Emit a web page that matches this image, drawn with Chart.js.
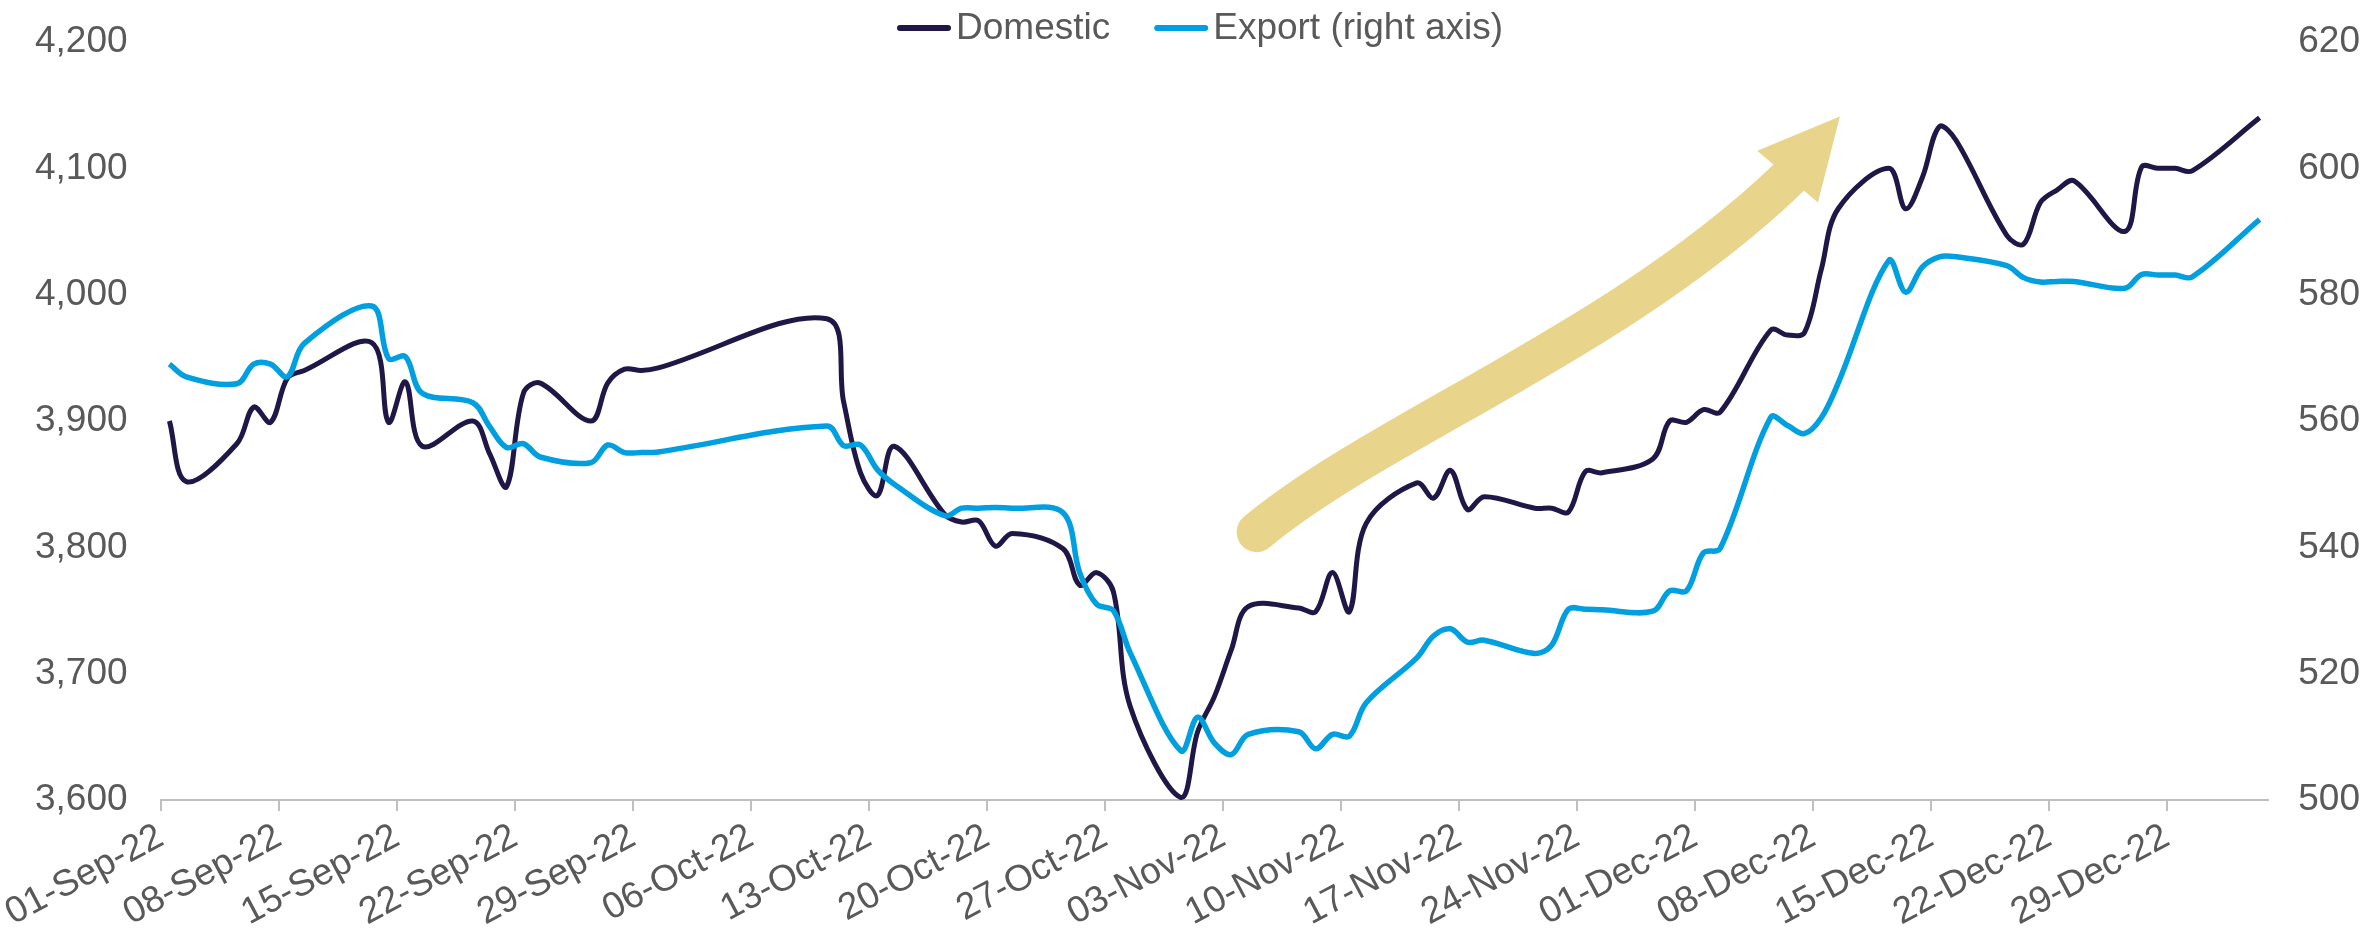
<!DOCTYPE html>
<html>
<head>
<meta charset="utf-8">
<title>Domestic and export prices</title>
<script src="https://cdn.jsdelivr.net/npm/chart.js@4.4.1/dist/chart.umd.min.js"></script>
<style>
  html, body { margin: 0; padding: 0; background: #ffffff; }
  #chart-wrap { width: 2367px; height: 939px; }
</style>
</head>
<body>
<div id="chart-wrap"><canvas id="price-chart" width="2367" height="939"></canvas></div>
<script>
// trading days (Golden Week and holidays have no prints)
const dates = [
    '2022-09-01', '2022-09-02', '2022-09-05', '2022-09-06', '2022-09-07', '2022-09-08', '2022-09-09',
    '2022-09-13', '2022-09-14', '2022-09-15', '2022-09-16', '2022-09-19', '2022-09-20', '2022-09-21',
    '2022-09-22', '2022-09-23', '2022-09-26', '2022-09-27', '2022-09-28', '2022-09-29', '2022-09-30',
    '2022-10-10', '2022-10-11', '2022-10-12', '2022-10-13', '2022-10-14', '2022-10-17', '2022-10-18',
    '2022-10-19', '2022-10-20', '2022-10-21', '2022-10-24', '2022-10-25', '2022-10-26', '2022-10-27',
    '2022-10-28', '2022-10-31', '2022-11-01', '2022-11-02', '2022-11-03', '2022-11-04', '2022-11-07',
    '2022-11-08', '2022-11-09', '2022-11-10', '2022-11-11', '2022-11-14', '2022-11-15', '2022-11-16',
    '2022-11-17', '2022-11-18', '2022-11-21', '2022-11-22', '2022-11-23', '2022-11-24', '2022-11-25',
    '2022-11-28', '2022-11-29', '2022-11-30', '2022-12-01', '2022-12-02', '2022-12-05', '2022-12-06',
    '2022-12-07', '2022-12-08', '2022-12-09', '2022-12-12', '2022-12-13', '2022-12-14', '2022-12-15',
    '2022-12-16', '2022-12-19', '2022-12-20', '2022-12-21', '2022-12-22', '2022-12-23', '2022-12-26',
    '2022-12-27', '2022-12-28', '2022-12-29', '2022-12-30', '2023-01-03'
];

const domestic = [
    3900, 3852, 3882, 3911, 3899, 3934, 3940,
    3962, 3899, 3931, 3880, 3900, 3874, 3848,
    3922, 3930, 3900, 3930, 3941, 3940, 3942,
    3981, 3915, 3859, 3841, 3880, 3826, 3820,
    3821, 3801, 3811, 3799, 3770, 3780, 3765,
    3674, 3602, 3654, 3682, 3719, 3753, 3752,
    3749, 3780, 3749, 3819, 3851, 3839, 3861,
    3830, 3840, 3831, 3831, 3828, 3860, 3859,
    3870, 3900, 3899, 3909, 3907, 3972, 3968,
    3970, 4020, 4068, 4100, 4068, 4093, 4133,
    4122, 4047, 4040, 4073, 4083, 4090, 4050,
    4101, 4100, 4100, 4098, 4140
];

const exportPrices = [
    569.0, 567.0, 565.9, 569.0, 569.0, 567.0, 572.3,
    578.2, 569.9, 570.2, 564.4, 562.9, 559.1, 555.8,
    556.4, 554.3, 553.4, 556.2, 555.0, 555.0, 555.1,
    559.2, 556.1, 556.2, 552.3, 550.0, 545.0, 546.2,
    546.2, 546.3, 546.2, 545.5, 536.0, 531.0, 530.0,
    523.3, 507.8, 513.1, 509.0, 507.2, 510.4, 510.8,
    508.1, 510.4, 510.1, 515.4, 522.5, 526.0, 527.1,
    525.0, 525.3, 523.2, 524.5, 530.2, 530.2, 530.1,
    529.9, 533.1, 533.1, 539.1, 539.8, 560.6, 559.3,
    558.0, 560.5, 566.0, 585.4, 580.4, 584.4, 586.0,
    586.0, 584.6, 582.7, 582.0, 582.1, 582.1, 581.0,
    583.2, 583.1, 583.1, 582.8, 591.9
];

const tickLabels = [
    '01-Sep-22', '08-Sep-22', '15-Sep-22', '22-Sep-22', '29-Sep-22', '06-Oct-22',
    '13-Oct-22', '20-Oct-22', '27-Oct-22', '03-Nov-22', '10-Nov-22', '17-Nov-22',
    '24-Nov-22', '01-Dec-22', '08-Dec-22', '15-Dec-22', '22-Dec-22', '29-Dec-22'
];

// trend arrow, as [day, domestic price]: cubic shaft (start, 2 controls, end) + head
const arrowShaft = [[64.5, 3812], [71.8, 3893], [86.1, 3964], [96.1, 4093]];
const arrowHead = [[94.2, 4114], [99.1, 4141], [97.8, 4073]];

const MONTHS = ['Jan', 'Feb', 'Mar', 'Apr', 'May', 'Jun', 'Jul', 'Aug', 'Sep', 'Oct', 'Nov', 'Dec'];
const ORIGIN = Date.UTC(2022, 8, 1);
const DAY_MS = 86400000;

const dayFromIso = (iso) => {
    const [yy, mm, dd] = iso.split('-').map(Number);
    return (Date.UTC(yy, mm - 1, dd) - ORIGIN) / DAY_MS;
};
const dayFromLabel = (label) => {
    const [dd, mon, yy] = label.split('-');
    return (Date.UTC(2000 + Number(yy), MONTHS.indexOf(mon), Number(dd)) - ORIGIN) / DAY_MS;
};

const FONT = '"Liberation Sans", Arial, sans-serif';
const TEXT_GREY = '#595959';
const AXIS_GREY = '#bfbfbf';
const NAVY = '#201747';
const BLUE = '#009fdf';
const SAND = '#e9d48c';

const toPoints = (values) => values.map((v, i) => ({ x: dayFromIso(dates[i]), y: v }));

// custom legend: short rounded line + label, centred above the plot
const lineLegend = {
    id: 'lineLegend',
    afterDraw(chart) {
        const ctx = chart.ctx;
        ctx.save();
        ctx.font = `37px ${FONT}`;
        ctx.textBaseline = 'middle';
        const sample = 54, gap = 5, spacing = 44;
        const items = chart.data.datasets.map(ds => ({
            label: ds.label, color: ds.borderColor, w: ctx.measureText(ds.label).width
        }));
        const total = items.reduce((s, it) => s + sample + gap + it.w, 0) + spacing * (items.length - 1);
        let x = chart.width * 0.507 - total / 2;
        const y = 28;
        items.forEach(it => {
            ctx.strokeStyle = it.color;
            ctx.lineWidth = 6;
            ctx.lineCap = 'round';
            ctx.beginPath();
            ctx.moveTo(x + 3, y);
            ctx.lineTo(x + sample - 3, y);
            ctx.stroke();
            ctx.fillStyle = TEXT_GREY;
            ctx.fillText(it.label, x + sample + gap, y + 1);
            x += sample + gap + it.w + spacing;
        });
        ctx.restore();
    }
};

// big curved arrow marking the rebound
const trendArrow = {
    id: 'trendArrow',
    beforeDatasetsDraw(chart) {
        const { ctx, scales } = chart;
        const px = ([d, v]) => [scales.x.getPixelForValue(d), scales.y.getPixelForValue(v)];
        const [p0, c1, c2, p3] = arrowShaft.map(px);
        ctx.save();
        ctx.strokeStyle = SAND;
        ctx.fillStyle = SAND;
        ctx.lineWidth = 40;
        ctx.lineCap = 'round';
        ctx.beginPath();
        ctx.moveTo(p0[0], p0[1]);
        ctx.bezierCurveTo(c1[0], c1[1], c2[0], c2[1], p3[0], p3[1]);
        ctx.stroke();
        const head = arrowHead.map(px);
        ctx.beginPath();
        ctx.moveTo(head[0][0], head[0][1]);
        ctx.lineTo(head[1][0], head[1][1]);
        ctx.lineTo(head[2][0], head[2][1]);
        ctx.closePath();
        ctx.fill();
        ctx.restore();
    }
};

document.addEventListener('DOMContentLoaded', () => {
    const ctx = document.getElementById('price-chart').getContext('2d');

    new Chart(ctx, {
        type: 'line',
        data: {
            datasets: [{
                label: 'Domestic',
                data: toPoints(domestic),
                yAxisID: 'y',
                borderColor: NAVY,
                borderWidth: 5,
                pointRadius: 0,
                tension: 0.35,
                order: 1,
                clip: 8
            }, {
                label: 'Export (right axis)',
                data: toPoints(exportPrices),
                yAxisID: 'y1',
                borderColor: BLUE,
                borderWidth: 5.5,
                pointRadius: 0,
                tension: 0.35,
                order: 0,
                clip: 8
            }]
        },
        options: {
            responsive: false,
            devicePixelRatio: 1,
            animation: false,
            layout: { padding: { top: 42, left: 35, right: 7, bottom: 0 } },
            plugins: {
                legend: { display: false },
                tooltip: { enabled: false }
            },
            scales: {
                x: {
                    type: 'linear',
                    min: -0.5,
                    max: 124.5,
                    afterBuildTicks: (scale) => {
                        scale.ticks = tickLabels.map(l => ({ value: dayFromLabel(l) - 0.5 }));
                    },
                    afterFit: (scale) => { scale.height = 139; },
                    grid: {
                        display: true,
                        drawOnChartArea: false,
                        drawTicks: true,
                        tickLength: 11,
                        color: AXIS_GREY,
                        lineWidth: 2
                    },
                    border: { display: true, color: AXIS_GREY, width: 2 },
                    ticks: {
                        autoSkip: false,
                        maxRotation: 28,
                        minRotation: 28,
                        padding: 4,
                        color: TEXT_GREY,
                        font: { family: FONT, size: 37 },
                        callback: (value, index) => tickLabels[index]
                    }
                },
                y: {
                    position: 'left',
                    min: 3600,
                    max: 4200,
                    afterFit: (scale) => { scale.width = 126; },
                    grid: { display: false },
                    border: { display: false },
                    ticks: {
                        stepSize: 100,
                        padding: 0,
                        crossAlign: 'far',
                        color: TEXT_GREY,
                        font: { family: FONT, size: 37 },
                        callback: (value) => value.toLocaleString('en-US')
                    }
                },
                y1: {
                    position: 'right',
                    min: 500,
                    max: 620,
                    afterFit: (scale) => { scale.width = 92; },
                    grid: { display: false },
                    border: { display: false },
                    ticks: {
                        stepSize: 20,
                        padding: 0,
                        crossAlign: 'far',
                        color: TEXT_GREY,
                        font: { family: FONT, size: 37 }
                    }
                }
            }
        },
        plugins: [trendArrow, lineLegend]
    });
});
</script>
</body>
</html>
